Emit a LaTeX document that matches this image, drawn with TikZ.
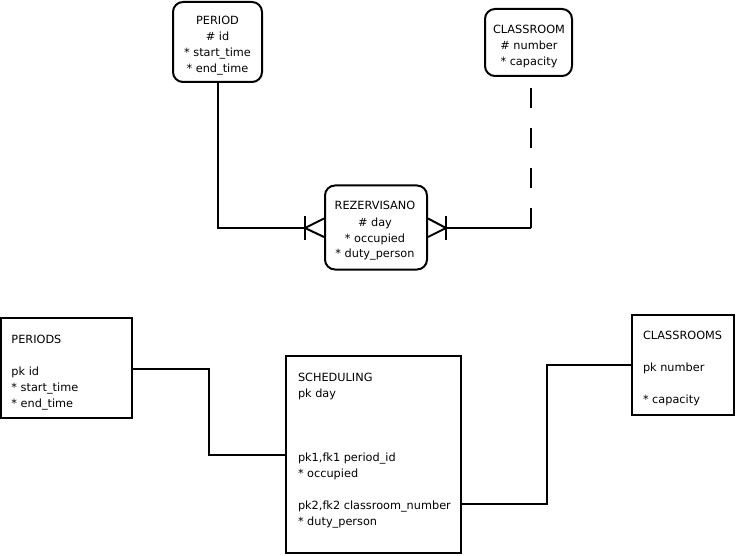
\documentclass[tikz,border=0pt]{standalone}
\usepackage{fontspec}
\setmainfont{DejaVu Sans}
\begin{document}
\begin{tikzpicture}[x=1pt,y=-1pt,
  line width=2pt,
  ent/.style={draw, rounded corners=10pt, inner sep=0pt, fill=white},
  tab/.style={draw, inner sep=0pt, fill=white},
  lbl/.style={inner sep=0pt, font=\fontsize{11.3}{16}\selectfont},
  dashline/.style={dash pattern=on 20pt off 20pt}]
\useasboundingbox[fill=white] (0,0) rectangle (736,556);

% logical model: entities
\node[ent, minimum width=89, minimum height=80] (period) at (217.5,42) {};
\node[lbl, align=center, anchor=north] (periodtxt) at (217.5,12.8)
  {\strut PERIOD\\\strut \# id\\\strut * start\_time\\\strut * end\_time};

\node[ent, minimum width=87, minimum height=67] (classroom) at (528.5,42.5) {};
\node[lbl, align=center, anchor=north] (classroomtxt) at (529,21.8)
  {\strut CLASSROOM\\\strut \# number\\\strut * capacity};

\node[ent, minimum width=102, minimum height=84] (rez) at (376,227.5) {};
\node[lbl, align=center, anchor=north] (reztxt) at (375,197.8)
  {\strut REZERVISANO\\\strut \# day\\\strut * occupied\\\strut * duty\_person};

% relationship PERIOD -- REZERVISANO (crow's foot)
\coordinate (lbar) at (305,228);
\draw (period.south) |- (lbar);
\draw (lbar) ++(0,-11.5) -- ++(0,23);
\draw (rez.west |- 0,218.5) -- (lbar) -- (rez.west |- 0,237);

% relationship CLASSROOM -- REZERVISANO (crow's foot, optional side dashed)
\coordinate (rbar) at (446,228);
\coordinate (rc) at (531,228);
\draw (rbar) ++(0,-11.5) -- ++(0,23);
\draw (rez.east |- 0,218.5) -- (rbar) -- (rez.east |- 0,237);
\draw (rbar) -- (rc);
\draw[dashline] (rc) -- (rc |- classroom.south);

% relational model: tables
\node[tab, minimum width=131, minimum height=100] (periods) at (66.5,368) {};
\node[lbl, align=left, anchor=north west] (periodstxt) at (10.5,330.8)
  {\strut PERIODS\\\strut\\\strut pk id\\\strut * start\_time\\\strut * end\_time};

\node[tab, minimum width=175, minimum height=197] (sched) at (373.5,454.5) {};
\node[lbl, align=left, anchor=north west] (schedtxt) at (297,368.8)
  {\strut SCHEDULING\\\strut pk day\\\strut\\\strut\\\strut\\\strut pk1,fk1 period\_id\\\strut * occupied\\\strut\\\strut pk2,fk2 classroom\_number\\\strut * duty\_person};

\node[tab, minimum width=102, minimum height=100] (classrooms) at (683,365) {};
\node[lbl, align=left, anchor=north west] (classroomstxt) at (642,326.8)
  {\strut CLASSROOMS\\\strut\\\strut pk number\\\strut\\\strut * capacity};

% table links
\coordinate (k1) at (209,455);
\coordinate (s1) at (sched.west |- k1);
\draw (periods.east |- 0,369) -| (k1) -- (s1);

\coordinate (k2) at (547,504);
\coordinate (s2) at (sched.east |- k2);
\draw (s2) -- (k2) |- (classrooms.west);
\end{tikzpicture}
\end{document}
